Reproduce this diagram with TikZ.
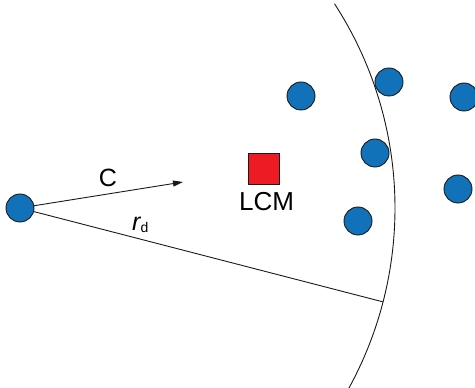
\documentclass[tikz,border=0pt]{standalone}
\usepackage{fontspec}
\setmainfont{Liberation Sans}
\usetikzlibrary{positioning, arrows.meta, calc}
\definecolor{dotcolor}{RGB}{17, 114, 186}
\definecolor{lcmcolor}{RGB}{237, 28, 36}
\definecolor{edgecolor}{RGB}{26, 26, 26}

\begin{document}
\begin{tikzpicture}[
    x=1pt, y=1pt,
    robot/.style={circle, draw=edgecolor, line width=0.9pt, fill=dotcolor, minimum size=28pt, inner sep=0pt},
    lcm/.style={rectangle, draw=edgecolor, line width=0.8pt, fill=lcmcolor, minimum size=31pt, inner sep=0pt},
    line/.style={edgecolor, line width=0.9pt},
    arrow/.style={line, -{Triangle[length=10pt, width=6pt]}},
    label/.style={font=\fontsize{25}{25}\selectfont, inner sep=0pt},
]

% Frame
\useasboundingbox (0,0) rectangle (475,388);
\clip (0,0) rectangle (475,388);

% Sensing range
\coordinate (origin) at (20,180);
\draw[line] ($(origin)+(33:375)$) arc[start angle=33, end angle=-30, radius=375];
\coordinate (rend) at ($(origin)+(-14.5:375)$);
\coordinate (cend) at (183,206);

% Vectors
\draw[arrow] (origin) -- (cend);
\draw[line] (origin) -- (rend);

% Source robot
\node[robot] (src) at (origin) {};

% Neighbours
\node[robot] (n1) at (301,292) {};
\node[robot] (n2) at (389,306) {};
\node[robot] (n3) at (464,291) {};
\node[robot] (n4) at (375,235) {};
\node[robot] (n5) at (458,199) {};
\node[robot] (n6) at (358,167) {};

% Local centre of mass
\node[lcm] (center) at (263.5,219.5) {};
\node[label, font=\fontsize{26}{26}\selectfont, below=8pt of center, xshift=3pt] (lcmtext) {LCM};

% Labels
\node[label] (ctext) at (108,210) {C};
\node[label, anchor=base west] (rtext) at (132,157) {{\itshape r}{\fontsize{14}{14}\selectfont\raisebox{-2pt}{d}}};

\end{tikzpicture}
\end{document}
